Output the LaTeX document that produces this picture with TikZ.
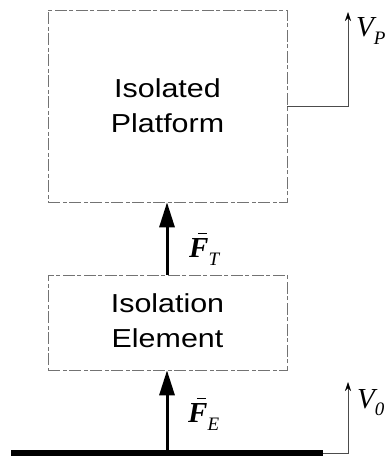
\documentclass[tikz,border=0pt]{standalone}
\usepackage{fontspec}
\setmainfont{Liberation Sans}
\newfontfamily\tms{Liberation Serif}
\usetikzlibrary{arrows.meta}

% bold italic vector F with a short bar above it
\newcommand\vecF{\makebox[0pt][l]{\hspace{0.3em}\rule[0.78em]{0.3em}{0.05em}}{\tms\bfseries\itshape F}}

\tikzset{
  frame/.style={draw=black!55, line width=0.6pt, dash pattern=on 12pt off 3pt on 4pt off 2pt},
  blocktext/.style={font=\fontsize{26}{35}\selectfont, align=center, xscale=1.17, transform shape},
  force/.style={line width=3pt, -{Triangle[length=25pt,width=15pt]}},
  motion/.style={draw=black!70, line width=0.6pt, -{Stealth[length=9pt,width=6pt,color=black]}},
  sym/.style={inner sep=0pt, anchor=base west, font=\fontsize{29}{29}\selectfont\tms},
}

\begin{document}
\begin{tikzpicture}[x=1pt, y=-1pt]
  \useasboundingbox (0,0) rectangle (387,457);

  % blocks
  \node[frame, minimum width=239pt, minimum height=192pt, inner sep=0pt] (plat) at (167.5,106) {};
  \node[blocktext] (platText) at (167.5,106) {Isolated\\Platform};
  \node[frame, minimum width=239pt, minimum height=95pt, inner sep=0pt] (iso) at (167.5,322.5) {};
  \node[blocktext] (isoText) at (167.5,321) {Isolation\\Element};

  % base
  \coordinate (gA) at (11,453);
  \coordinate (gB) at (323,453);
  \coordinate (gF) at (167,450);
  \draw[line width=6pt] (gA) -- (gB);

  % forces
  \draw[force] (gF) -- (gF |- iso.south);
  \draw[force] (gF |- iso.north) -- (gF |- plat.south);
  \node[sym] (FT) at (189,257) {\vecF\raisebox{-0.28em}{\fontsize{19}{19}\selectfont\itshape T}};
  \node[sym] (FE) at (188,422) {\vecF\raisebox{-0.28em}{\fontsize{19}{19}\selectfont\itshape E}};

  % velocities
  \coordinate (vpTop) at (348,12);
  \coordinate (v0Top) at (348,382);
  \draw[motion] (plat.east) -| (vpTop);
  \draw[motion] (gB) -| (v0Top);
  \node[sym] (VP) at (356,37) {\itshape V\raisebox{-0.25em}{\fontsize{19}{19}\selectfont P}};
  \node[sym] (V0) at (357,408) {\itshape V\raisebox{-0.25em}{\fontsize{19}{19}\selectfont 0}};
\end{tikzpicture}
\end{document}
